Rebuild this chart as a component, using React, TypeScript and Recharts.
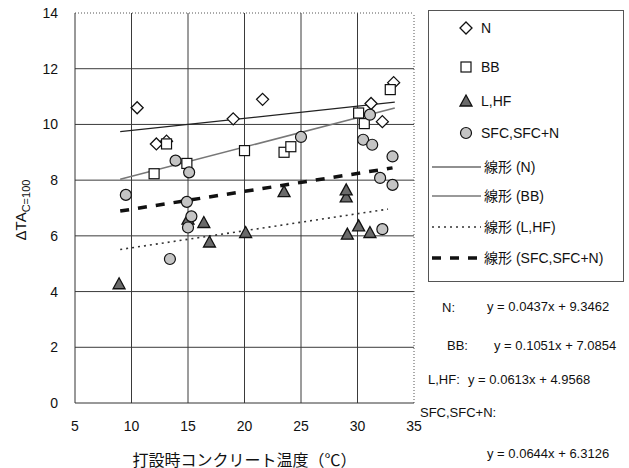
import React from 'react';
import {
  ComposedChart, Scatter, XAxis, YAxis, CartesianGrid, ReferenceLine,
} from 'recharts';

// 測定値 (打設時コンクリート温度, ΔTA)
const N_DATA = [
  { x: 10.5, y: 10.6 }, { x: 12.2, y: 9.3 }, { x: 13.1, y: 9.4 }, { x: 19.0, y: 10.2 },
  { x: 21.6, y: 10.9 }, { x: 31.2, y: 10.75 }, { x: 32.2, y: 10.1 }, { x: 33.2, y: 11.5 },
];
const BB_DATA = [
  { x: 12.0, y: 8.23 }, { x: 13.1, y: 9.3 }, { x: 14.9, y: 8.6 }, { x: 20.0, y: 9.06 },
  { x: 23.5, y: 9.0 }, { x: 24.1, y: 9.2 }, { x: 30.1, y: 10.41 }, { x: 30.6, y: 10.03 },
  { x: 32.9, y: 11.25 },
];
const LHF_DATA = [
  { x: 8.9, y: 4.28 }, { x: 15.0, y: 6.6 }, { x: 16.4, y: 6.48 }, { x: 16.9, y: 5.78 },
  { x: 20.1, y: 6.12 }, { x: 23.5, y: 7.59 }, { x: 29.0, y: 7.4 }, { x: 29.0, y: 7.65 },
  { x: 29.1, y: 6.06 }, { x: 30.1, y: 6.36 }, { x: 31.1, y: 6.12 },
];
const SFC_DATA = [
  { x: 9.5, y: 7.47 }, { x: 13.4, y: 5.17 }, { x: 13.9, y: 8.7 }, { x: 14.9, y: 7.22 },
  { x: 15.1, y: 8.28 }, { x: 15.3, y: 6.7 }, { x: 15.0, y: 6.3 }, { x: 25.0, y: 9.55 },
  { x: 30.5, y: 9.45 }, { x: 31.1, y: 10.35 }, { x: 31.3, y: 9.27 }, { x: 32.0, y: 8.08 },
  { x: 32.2, y: 6.24 }, { x: 33.1, y: 8.85 }, { x: 33.1, y: 7.83 },
];

// 線形近似の端点
const TREND_N = [{ x: 9.0, y: 9.74 }, { x: 33.3, y: 10.8 }];
const TREND_BB = [{ x: 9.0, y: 8.03 }, { x: 33.3, y: 10.59 }];
const TREND_LHF = [{ x: 9.0, y: 5.51 }, { x: 32.7, y: 6.96 }];
const TREND_SFC = [{ x: 9.0, y: 6.89 }, { x: 33.1, y: 8.44 }];

const X_TICKS = [5, 10, 15, 20, 25, 30, 35];
const Y_TICKS = [0, 2, 4, 6, 8, 10, 12, 14];

const LEGEND_LABELS = ['N', 'BB', 'L,HF', 'SFC,SFC+N', '線形 (N)', '線形 (BB)', '線形 (L,HF)', '線形 (SFC,SFC+N)'];
const EQ_NAMES = ['N:', 'BB:', 'L,HF:', 'SFC,SFC+N:'];
const EQ_TEXTS = ['y = 0.0437x + 9.3462', 'y = 0.1051x + 7.0854', 'y = 0.0613x + 4.9568', 'y = 0.0644x + 6.3126'];

const FONT = '"Liberation Sans", Arial, sans-serif';
const JP_FONT = '"Liberation Sans", "Noto Sans CJK JP", sans-serif';

const Diamond = ({ cx, cy }: any) => (
  <polygon points={`${cx},${cy - 6} ${cx + 6},${cy} ${cx},${cy + 6} ${cx - 6},${cy}`} fill="#fff" stroke="#111" strokeWidth={1.3} />
);
const Square = ({ cx, cy }: any) => (
  <rect x={cx - 5} y={cy - 5} width={10} height={10} fill="#fff" stroke="#111" strokeWidth={1.2} />
);
const Triangle = ({ cx, cy }: any) => (
  <polygon points={`${cx},${cy - 6} ${cx + 6},${cy + 5} ${cx - 6},${cy + 5}`} fill="#6a6a6a" stroke="#111" strokeWidth={1.3} />
);
const Circle = ({ cx, cy }: any) => (
  <circle cx={cx} cy={cy} r={5.5} fill="#c4c4c4" stroke="#111" strokeWidth={1.2} />
);
const NoDot = () => <g />;

const MARKERS = [Diamond, Square, Triangle, Circle];
const LINE_STYLES = [
  { stroke: '#222', strokeWidth: 1.2, strokeDasharray: undefined },
  { stroke: '#777', strokeWidth: 1.6, strokeDasharray: undefined },
  { stroke: '#333', strokeWidth: 1.6, strokeDasharray: '2 4' },
  { stroke: '#111', strokeWidth: 3.5, strokeDasharray: '9 9' },
];

const LEGEND_ROWS = [17, 56, 90, 122, 156, 185, 216, 247];

function LegendBox() {
  return (
    <div style={{ position: 'absolute', left: 428, top: 10, width: 196, height: 272, border: '1px solid #555', background: '#fff', boxSizing: 'border-box' }}>
      {LEGEND_LABELS.map((label, i) => {
        const isMarker = i < 4;
        const Marker = MARKERS[i % 4];
        const ls = LINE_STYLES[i % 4];
        return (
          <div key={label} style={{ position: 'absolute', left: 0, top: LEGEND_ROWS[i] - 10, height: 20, width: 196 }}>
            <svg width={54} height={20} style={{ position: 'absolute', left: 0, top: 0 }}>
              {isMarker ? (
                <Marker cx={37} cy={10} />
              ) : (
                <line x1={3} y1={10} x2={52} y2={10} stroke={ls.stroke} strokeWidth={ls.strokeWidth} strokeDasharray={ls.strokeDasharray} />
              )}
            </svg>
            <span style={{
              position: 'absolute', left: isMarker ? 52 : 55, top: 0, lineHeight: '20px',
              fontSize: 14, fontFamily: JP_FONT, color: '#111', whiteSpace: 'nowrap',
            }}>{label}</span>
          </div>
        );
      })}
    </div>
  );
}

const YLabel = () => (
  <text transform="translate(26, 210) rotate(-90)" textAnchor="middle" fontFamily={FONT} fontSize={15} fill="#111">
    <tspan>ΔTA</tspan>
    <tspan fontSize={11} dy={4}>C=100</tspan>
  </text>
);

const eqStyle = (left: number, top: number): React.CSSProperties => ({
  position: 'absolute', left, top: top - 9, lineHeight: '18px', fontSize: 13,
  fontFamily: FONT, color: '#111', whiteSpace: 'nowrap',
});

const EQ_NAME_POS = [[442, 308], [447, 346], [428, 380], [420, 413]];
const EQ_TEXT_POS = [[487, 307], [494, 346], [468, 380], [487, 454]];

export default function App() {
  return (
    <div style={{ position: 'absolute', left: 0, top: 0, width: 629, height: 468, background: '#fff', fontFamily: FONT }}>
      <ComposedChart width={629} height={468} margin={{ top: 13, right: 215, bottom: 0, left: 0 }}>
        <CartesianGrid stroke="#3a3a3a" horizontalValues={[2, 4, 6, 8, 10, 12]} verticalValues={[10, 15, 20, 25, 30]} />
        <XAxis
          type="number" dataKey="x" domain={[5, 35]} ticks={X_TICKS} height={65}
          tickLine={false} axisLine={{ stroke: '#333' }} tickMargin={12}
          tick={{ fontSize: 14, fill: '#111', fontFamily: FONT }}
          label={{ value: '打設時コンクリート温度（℃）', position: 'insideBottom', offset: 2, fontSize: 16, fill: '#111', fontFamily: JP_FONT }}
        />
        <YAxis
          type="number" dataKey="y" domain={[0, 14]} ticks={Y_TICKS} width={75}
          tickLine={false} axisLine={{ stroke: '#333' }} tickMargin={11}
          tick={{ fontSize: 14, fill: '#111', fontFamily: FONT }}
          label={<YLabel />}
        />
        <ReferenceLine y={14} stroke="#555" strokeDasharray="1 2" />
        <ReferenceLine x={35} stroke="#555" strokeDasharray="1 2" />

        <Scatter data={TREND_N} shape={NoDot} line={LINE_STYLES[0]} legendType="none" isAnimationActive={false} />
        <Scatter data={TREND_BB} shape={NoDot} line={LINE_STYLES[1]} legendType="none" isAnimationActive={false} />
        <Scatter data={TREND_LHF} shape={NoDot} line={LINE_STYLES[2]} legendType="none" isAnimationActive={false} />
        <Scatter data={TREND_SFC} shape={NoDot} line={LINE_STYLES[3]} legendType="none" isAnimationActive={false} />

        <Scatter name="N" data={N_DATA} shape={Diamond} isAnimationActive={false} />
        <Scatter name="BB" data={BB_DATA} shape={Square} isAnimationActive={false} />
        <Scatter name="L,HF" data={LHF_DATA} shape={Triangle} isAnimationActive={false} />
        <Scatter name="SFC,SFC+N" data={SFC_DATA} shape={Circle} isAnimationActive={false} />
      </ComposedChart>
      <LegendBox />
      {EQ_NAMES.map((n, i) => (
        <div key={n} style={eqStyle(EQ_NAME_POS[i][0], EQ_NAME_POS[i][1])}>{n}</div>
      ))}
      {EQ_TEXTS.map((t, i) => (
        <div key={t} style={eqStyle(EQ_TEXT_POS[i][0], EQ_TEXT_POS[i][1])}>{t}</div>
      ))}
    </div>
  );
}
